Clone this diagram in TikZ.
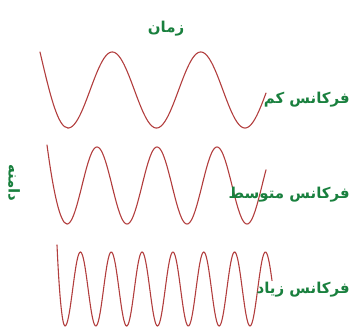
\documentclass[tikz,border=0pt]{standalone}
\usepackage{fontspec}
\newfontfamily\arabicfont[Script=Arabic]{DejaVu Sans}
\TeXXeTstate=1
\definecolor{wavered}{RGB}{178,62,62}
\definecolor{labelgreen}{RGB}{25,128,62}

\begin{document}
\begin{tikzpicture}[x=1pt, y=-1pt,
  wave/.style={wavered, line width=1.1pt, samples=240, smooth, line cap=round},
  lbl/.style={labelgreen, inner sep=0pt, font=\arabicfont\bfseries\fontsize{15}{17}\selectfont}]
  \useasboundingbox (0,0) rectangle (352,329);

  % سر موج‌ها و نخستین دره
  \coordinate (s1) at (40,52);  \coordinate (t1) at (68,128);
  \coordinate (s2) at (47,145); \coordinate (t2) at (67,224);
  \coordinate (s3) at (57,245); \coordinate (t3) at (65,326);

  % فرکانس کم
  \draw[wave] (s1) .. controls (50,95) and (58,128) .. (t1);
  \draw[wave, domain=68:266] plot (\x, {90+38*cos(360/88.5*(\x-68))});
  % فرکانس متوسط
  \draw[wave] (s2) .. controls (53,190) and (60,224) .. (t2);
  \draw[wave, domain=67:266] plot (\x, {185.5+38.5*cos(6*(\x-67))});
  % فرکانس زیاد
  \draw[wave] (s3) .. controls (59,290) and (62,326) .. (t3);
  \draw[wave, domain=65:272] plot (\x, {289+37*cos(11.676*(\x-65))});

  % محورها
  \node[lbl] (time) at (166,29) {\beginR زمان\endR};
  \node[lbl, rotate=-90] (amp) at (14,183) {\beginR دامنه\endR};

  % برچسب‌ها
  \node[lbl, anchor=east] (low)  at (350,100) {\beginR فرکانس کم\endR};
  \node[lbl, anchor=east] (mid)  at (350,195) {\beginR فرکانس متوسط\endR};
  \node[lbl, anchor=east] (high) at (350,290) {\beginR فرکانس زیاد\endR};
\end{tikzpicture}
\end{document}
